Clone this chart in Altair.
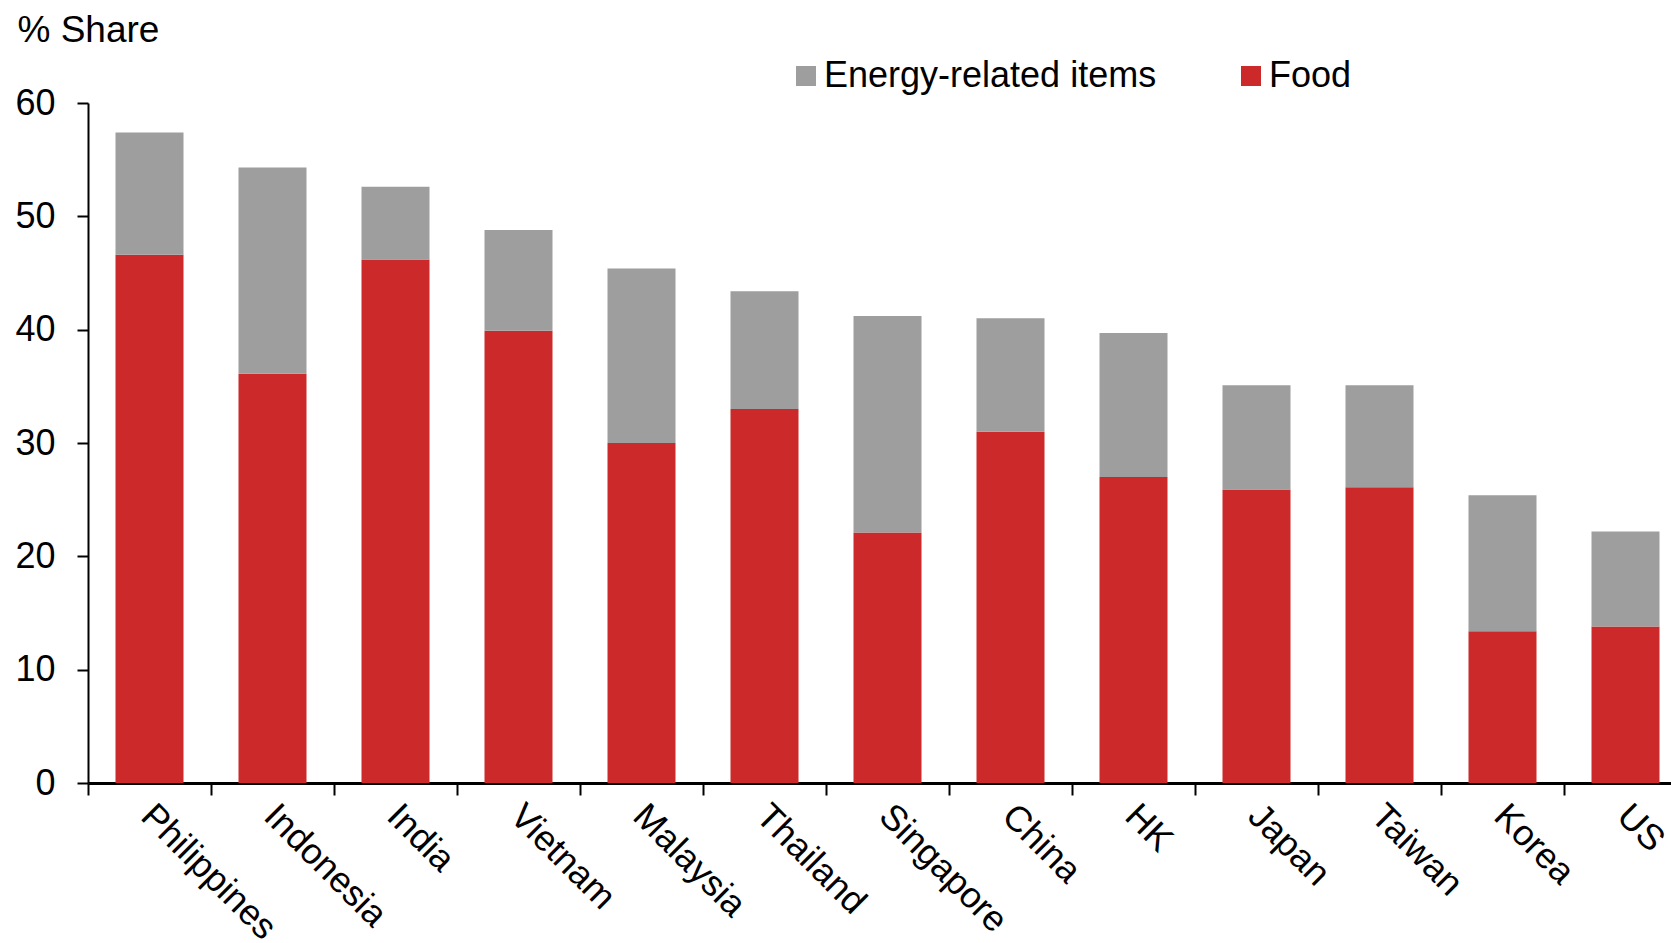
import altair as alt
import pandas as pd

# Share of food and energy-related items in the CPI basket, by economy
countries = ["Philippines", "Indonesia", "India", "Vietnam", "Malaysia", "Thailand",
             "Singapore", "China", "HK", "Japan", "Taiwan", "Korea", "US"]
food = [46.6, 36.1, 46.2, 39.9, 30.0, 33.0, 22.1, 31.0, 27.0, 25.9, 26.1, 13.4, 13.8]
energy = [10.8, 18.2, 6.4, 8.9, 15.4, 10.4, 19.1, 10.0, 12.7, 9.2, 9.0, 12.0, 8.4]
series = ["Energy-related items", "Food"]
colors = ["#9E9E9E", "#CC2A2A"]
y_ticks = [0, 10, 20, 30, 40, 50, 60]

rows = []
for c, f, e in zip(countries, food, energy):
    rows.append({"country": c, "item": "Food", "share": f, "stack": 0})
    rows.append({"country": c, "item": "Energy-related items", "share": e, "stack": 1})
df = pd.DataFrame(rows)

FONT = "Liberation Sans"

chart = alt.Chart(df).mark_bar(size=68).encode(
    x=alt.X(
        "country:N", sort=countries, title=None,
        scale=alt.Scale(paddingInner=0, paddingOuter=0, range=[0, 1599]),
        axis=alt.Axis(
            labelAngle=45, labelAlign="left", labelBaseline="top",
            tickBand="extent", labelFontSize=36, labelPadding=3, labelOffset=9,
            labelColor="black", labelFont=FONT, labelLimit=0,
            tickSize=12, tickWidth=2, tickColor="black",
            domainWidth=3, domainColor="black",
        ),
    ),
    y=alt.Y(
        "share:Q", stack="zero",
        scale=alt.Scale(domain=[0, 60], nice=False),
        axis=alt.Axis(
            values=y_ticks, title="% Share", titleAngle=0, titleAlign="left",
            titleBaseline="alphabetic", titleX=-71, titleY=-62,
            titleFont=FONT, titleFontSize=37, titleFontWeight="normal", titleColor="black",
            labelFontSize=36, labelFont=FONT, labelColor="black", labelPadding=22,
            tickSize=11, tickWidth=2, tickColor="black",
            domainWidth=2, domainColor="black", grid=False,
        ),
    ),
    color=alt.Color(
        "item:N",
        scale=alt.Scale(domain=series, range=colors),
        legend=alt.Legend(
            title=None, orient="none", direction="horizontal",
            legendX=700, legendY=-45,
            symbolType="square", symbolSize=400, symbolStrokeWidth=0,
            labelFontSize=36, labelFont=FONT, labelColor="black", labelLimit=0,
            labelOffset=0, columnPadding=76,
        ),
    ),
    order=alt.Order("stack:Q"),
).properties(
    width=1583, height=680,
    autosize=alt.AutoSizeParams(type="none"),
    padding={"left": 88, "top": 103, "right": 0, "bottom": 160},
).configure_view(stroke=None)

chart.save("out.html", embed_options={"renderer": "svg", "actions": False})
